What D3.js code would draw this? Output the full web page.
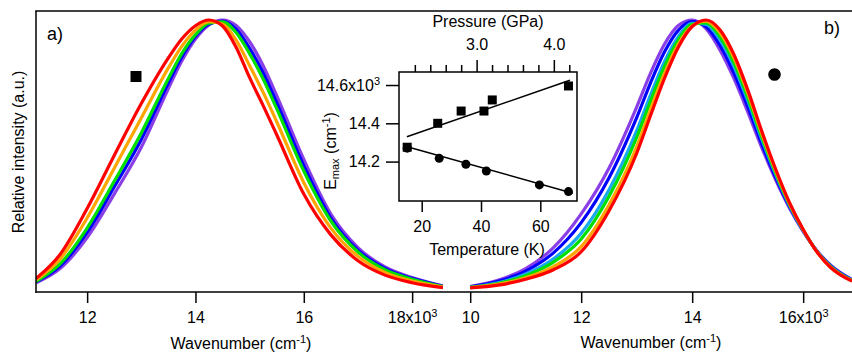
<!DOCTYPE html>
<html>
<head>
<meta charset="utf-8">
<script src="https://cdn.jsdelivr.net/npm/d3@7"></script>
<style>
  body { margin: 0; background: #fff; }
  svg { display: block; font-family: "Liberation Sans", Arial, Helvetica, sans-serif; }
</style>
</head>
<body>
<div id="chart"></div>
<script>
// ---- panel a) spectra (wavenumber in 10^3 cm-1, normalised intensity)
const leftWave   = [11.06, 11.5, 12, 12.5, 13, 13.5, 13.75, 14, 14.25, 14.5, 14.75, 15, 15.25, 15.5, 16, 16.5, 17, 17.5, 18, 18.57];
const leftPurple = [.034, .086, .20, .36, .532, .748, .85, .93, .982, 1.0, .98, .92, .832, .722, .487, .286, .163, .092, .053, .022];
const leftBlue   = [.037, .095, .219, .386, .561, .768, .865, .939, .985, .996, .966, .896, .806, .696, .464, .272, .154, .087, .05, .021];
const leftGreen  = [.039, .103, .235, .407, .585, .785, .877, .946, .988, .993, .954, .876, .783, .674, .445, .261, .147, .082, .047, .02];
const leftOrange = [.045, .121, .272, .455, .64, .824, .904, .963, .994, .985, .926, .832, .734, .626, .402, .235, .131, .072, .04, .018];
const leftRed    = [.05, .138, .307, .502, .693, .861, .931, .979, 1.0, .978, .90, .788, .685, .578, .36, .21, .115, .062, .034, .016];

// ---- panel b) spectra
const rightWave   = [10, 10.5, 11, 11.5, 12, 12.5, 13, 13.25, 13.5, 13.75, 14, 14.25, 14.5, 14.75, 15, 15.25, 15.5, 15.75, 16, 16.25, 16.5, 16.88];
const rightPurple = [.02, .043, .086, .163, .287, .455, .68, .805, .911, .98, 1.0, .968, .89, .786, .663, .533, .414, .31, .223, .151, .098, .046];
const rightBlue   = [.019, .039, .077, .144, .255, .419, .641, .769, .882, .962, .994, .975, .907, .806, .682, .547, .423, .315, .225, .15, .096, .045];
const rightCyan   = [.017, .034, .066, .122, .216, .375, .593, .725, .847, .939, .988, .984, .928, .831, .704, .564, .434, .32, .227, .149, .093, .043];
const rightGreen  = [.017, .031, .06, .11, .195, .351, .568, .702, .828, .927, .984, .989, .939, .844, .716, .573, .44, .323, .228, .148, .092, .042];
const rightOrange = [.016, .028, .052, .093, .167, .32, .534, .671, .803, .911, .979, .996, .954, .862, .733, .585, .448, .327, .229, .147, .09, .041];
const rightRed    = [.015, .025, .047, .082, .148, .298, .51, .649, .785, .90, .976, 1.0, .964, .874, .744, .594, .454, .33, .23, .147, .089, .04];

// ---- inset: peak position vs temperature
const squareT = [15.1, 25.4, 33.3, 41.0, 43.8, 69.5];
const squareE = [14.275, 14.40, 14.464, 14.464, 14.522, 14.595];
const circleT = [15.1, 25.9, 34.9, 41.8, 59.7, 69.5];
const circleE = [14.27, 14.217, 14.186, 14.151, 14.078, 14.043];
const squareFitT = [15, 70];
const squareFitE = [14.33, 14.625];
const circleFitT = [14.5, 71];
const circleFitE = [14.28, 14.035];

// ---- ticks
const leftTicks = [12, 14, 16, 18];
const rightTicks = [10, 12, 14, 16];
const tempTicks = [20, 40, 60];
const energyTicks = [14.2, 14.4, 14.6];
const pressureMajor = [3.0, 4.0];
const pressureMinor = [2.2, 2.4, 2.6, 2.8, 3.2, 3.4, 3.6, 3.8, 4.2];

const W = 852, H = 353;
const svg = d3.select("#chart").append("svg").attr("width", W).attr("height", H);

const yInt = d3.scaleLinear().domain([0, 1]).range([292, 20]);
const xLeft = d3.scaleLinear().domain([11.056, 18.57]).range([36, 443]);
const xRight = d3.scaleLinear().domain([9.51, 16.88]).range([443, 852]);

const defs = svg.append("defs");
defs.append("clipPath").attr("id", "clipL").append("rect")
  .attr("x", 36).attr("y", 11).attr("width", 407).attr("height", 281);
defs.append("clipPath").attr("id", "clipR").append("rect")
  .attr("x", 443).attr("y", 11).attr("width", 409).attr("height", 281);

function drawSpectra(x, wave, series, clip) {
  const line = d3.line()
    .x(d => x(d[0]))
    .y(d => yInt(d[1]))
    .curve(d3.curveMonotoneX);
  const g = svg.append("g").attr("clip-path", `url(#${clip})`);
  series.forEach(s => {
    g.append("path")
      .attr("d", line(wave.map((w, i) => [w, s.values[i]])))
      .attr("fill", "none")
      .attr("stroke", s.color)
      .attr("stroke-width", 3.2)
      .attr("stroke-linejoin", "round");
  });
}

drawSpectra(xLeft, leftWave, [
  { values: leftPurple, color: "#8a3ee6" },
  { values: leftBlue, color: "#0000ff" },
  { values: leftGreen, color: "#00e000" },
  { values: leftOrange, color: "#ffa500" },
  { values: leftRed, color: "#ff0000" }
], "clipL");

drawSpectra(xRight, rightWave, [
  { values: rightPurple, color: "#8a3ee6" },
  { values: rightBlue, color: "#0000ff" },
  { values: rightCyan, color: "#1aa8f0" },
  { values: rightGreen, color: "#00e000" },
  { values: rightOrange, color: "#ffa500" },
  { values: rightRed, color: "#ff0000" }
], "clipR");

// frame
const frame = svg.append("g").attr("stroke", "#000").attr("stroke-width", 1.5);
frame.append("line").attr("x1", 36).attr("x2", 36).attr("y1", 11).attr("y2", 292.75);
frame.append("line").attr("x1", 35.25).attr("x2", 852).attr("y1", 11).attr("y2", 11);
frame.append("line").attr("x1", 35.25).attr("x2", 443).attr("y1", 292).attr("y2", 292);
frame.append("line").attr("x1", 443).attr("x2", 852).attr("y1", 292).attr("y2", 292);

function sciLabel(g, val, base) {
  g.selectAll(".tick text").filter(d => Math.abs(d - val) < 1e-9).each(function () {
    const t = d3.select(this).text(null);
    t.append("tspan").text(base + "x10");
    t.append("tspan").attr("dy", "-0.55em").attr("font-size", "11px").text("3");
  });
}

function styleAxis(g) {
  g.attr("font-family", null).attr("font-size", 16);
  g.select(".domain").remove();
  g.selectAll(".tick line").attr("stroke-width", 1.5);
  g.selectAll(".tick text").attr("fill", "#000");
}

const axL = svg.append("g").attr("transform", "translate(0,292)")
  .call(d3.axisBottom(xLeft).tickValues(leftTicks).tickSize(11).tickPadding(9).tickFormat(d3.format("d")));
styleAxis(axL); sciLabel(axL, 18, "18");

const axR = svg.append("g").attr("transform", "translate(0,292)")
  .call(d3.axisBottom(xRight).tickValues(rightTicks).tickSize(11).tickPadding(9).tickFormat(d3.format("d")));
styleAxis(axR); sciLabel(axR, 16, "16");

function supTitle(x, y, before, sup, after) {
  const t = svg.append("text").attr("x", x).attr("y", y).attr("text-anchor", "middle").attr("font-size", 16);
  t.append("tspan").text(before);
  t.append("tspan").attr("dy", "-6px").attr("font-size", "11px").text(sup);
  t.append("tspan").attr("dy", "6px").text(after);
  return t;
}
supTitle(241, 349, "Wavenumber (cm", "-1", ")");
supTitle(651, 348, "Wavenumber (cm", "-1", ")");

svg.append("text").attr("transform", "translate(24,152) rotate(-90)")
  .attr("text-anchor", "middle").attr("font-size", 16).text("Relative intensity (a.u.)");

svg.append("text").attr("x", 47).attr("y", 40).attr("font-size", 18).text("a)");
svg.append("text").attr("x", 824).attr("y", 34).attr("font-size", 18).text("b)");

// panel legend glyphs
svg.append("rect").attr("x", 130.5).attr("y", 71).attr("width", 11).attr("height", 11).attr("fill", "#000");
svg.append("circle").attr("cx", 774.5).attr("cy", 74.5).attr("r", 6.3).attr("fill", "#000");

// ---- inset
const xT = d3.scaleLinear().domain([12.34, 72.38]).range([399, 577]);
const yE = d3.scaleLinear().domain([13.994, 14.668]).range([201, 72]);
const xP = d3.scaleLinear().domain([1.995, 4.30]).range([399, 577]);

svg.append("rect").attr("x", 399).attr("y", 72).attr("width", 178).attr("height", 129)
  .attr("fill", "none").attr("stroke", "#000").attr("stroke-width", 1.5);

const axT = svg.append("g").attr("transform", "translate(0,201)")
  .call(d3.axisBottom(xT).tickValues(tempTicks).tickSize(11).tickPadding(9).tickFormat(d3.format("d")));
styleAxis(axT);

const axE = svg.append("g").attr("transform", "translate(399,0)")
  .call(d3.axisLeft(yE).tickValues(energyTicks).tickSize(13).tickPadding(6).tickFormat(d3.format(".1f")));
styleAxis(axE); sciLabel(axE, 14.6, "14.6");

const axPmin = svg.append("g").attr("transform", "translate(0,72)")
  .call(d3.axisTop(xP).tickValues(pressureMinor).tickSize(7).tickFormat(""));
styleAxis(axPmin);
const axPmaj = svg.append("g").attr("transform", "translate(0,72)")
  .call(d3.axisTop(xP).tickValues(pressureMajor).tickSize(12).tickPadding(10).tickFormat(d3.format(".1f")));
styleAxis(axPmaj);

svg.append("text").attr("x", 488).attr("y", 26.5).attr("text-anchor", "middle")
  .attr("font-size", 16).text("Pressure (GPa)");
svg.append("text").attr("x", 487).attr("y", 254.5).attr("text-anchor", "middle")
  .attr("font-size", 16).text("Temperature (K)");

const eLab = svg.append("text").attr("transform", "translate(336,151) rotate(-90)")
  .attr("text-anchor", "middle").attr("font-size", 16);
eLab.append("tspan").text("E");
eLab.append("tspan").attr("dy", "3px").attr("font-size", "11px").text("max");
eLab.append("tspan").attr("dy", "-3px").text(" (cm");
eLab.append("tspan").attr("dy", "-6.5px").attr("font-size", "11px").text("-1");
eLab.append("tspan").attr("dy", "6.5px").text(")");

const fit = d3.line().x(d => xT(d[0])).y(d => yE(d[1]));
svg.append("path").attr("d", fit(squareFitT.map((t, i) => [t, squareFitE[i]])))
  .attr("fill", "none").attr("stroke", "#000").attr("stroke-width", 1.5);
svg.append("path").attr("d", fit(circleFitT.map((t, i) => [t, circleFitE[i]])))
  .attr("fill", "none").attr("stroke", "#000").attr("stroke-width", 1.5);

svg.append("g").selectAll("circle").data(circleT).join("circle")
  .attr("cx", d => xT(d)).attr("cy", (d, i) => yE(circleE[i])).attr("r", 4.5).attr("fill", "#000");
svg.append("g").selectAll("rect").data(squareT).join("rect")
  .attr("x", d => xT(d) - 4.5).attr("y", (d, i) => yE(squareE[i]) - 4.5)
  .attr("width", 9).attr("height", 9).attr("fill", "#000");
</script>
</body>
</html>
